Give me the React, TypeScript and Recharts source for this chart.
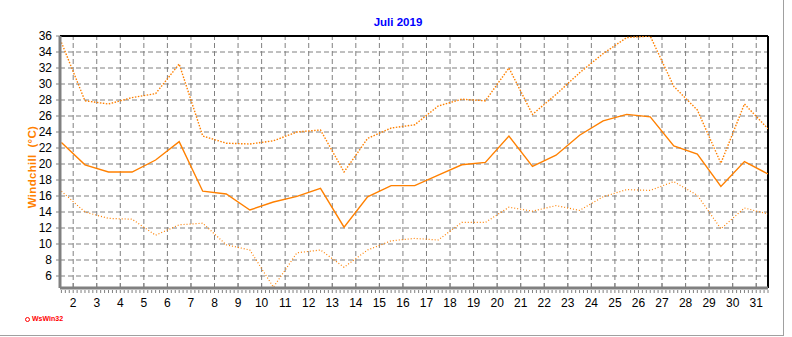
import React from 'react';
import { LineChart, Line, XAxis, YAxis, CartesianGrid, ReferenceLine, Label } from 'recharts';

const title = 'Juli 2019';
const yAxisTitle = 'Windchill  (°C)';
const logoText = 'WsWin32';

const days = [1.5, 2.5, 3.5, 4.5, 5.5, 6.5, 7.5, 8.5, 9.5, 10.5, 11.5, 12.5, 13.5, 14.5, 15.5, 16.5, 17.5, 18.5, 19.5, 20.5, 21.5, 22.5, 23.5, 24.5, 25.5, 26.5, 27.5, 28.5, 29.5, 30.5, 31.5];
const maxWindchill = [35.2, 27.9, 27.5, 28.3, 28.8, 32.5, 23.5, 22.6, 22.5, 22.9, 24.0, 24.25, 19.0, 23.2, 24.5, 24.9, 27.25, 28.1, 27.9, 32.0, 26.2, 28.7, 31.4, 33.8, 35.8, 36.0, 29.7, 26.75, 20.1, 27.5, 24.4];
const meanWindchill = [22.7, 19.9, 19.0, 19.0, 20.5, 22.8, 16.6, 16.25, 14.25, 15.25, 15.95, 16.95, 12.1, 15.9, 17.3, 17.3, 18.6, 19.9, 20.2, 23.5, 19.7, 21.1, 23.6, 25.4, 26.2, 25.9, 22.25, 21.25, 17.2, 20.3, 18.75];
const minWindchill = [16.6, 14.0, 13.2, 13.1, 11.1, 12.4, 12.6, 9.9, 9.25, 4.6, 8.9, 9.25, 7.1, 9.25, 10.4, 10.7, 10.5, 12.7, 12.7, 14.6, 14.1, 14.8, 14.2, 15.9, 16.8, 16.7, 17.8, 16.1, 11.9, 14.5, 13.75];

const xTickLabels = [2, 3, 4, 5, 6, 7, 8, 9, 10, 11, 12, 13, 14, 15, 16, 17, 18, 19, 20, 21, 22, 23, 24, 25, 26, 27, 28, 29, 30, 31];
const yTickLabels = [6, 8, 10, 12, 14, 16, 18, 20, 22, 24, 26, 28, 30, 32, 34, 36];

const X_MIN = 1.44;
const X_MAX = 31.5;
const Y_MIN = 4.5;
const Y_MAX = 36;
const MINOR_PER_DAY = 6;

const data = days.map((d, i) => ({
  day: d,
  max: maxWindchill[i],
  mean: meanWindchill[i],
  min: minWindchill[i],
}));

// minor tick positions along the time axis (every 4 hours)
const minorTicks: number[] = [];
for (let k = Math.ceil(X_MIN * MINOR_PER_DAY); k <= Math.floor(X_MAX * MINOR_PER_DAY); k++) {
  minorTicks.push(k / MINOR_PER_DAY);
}
const allXTicks = Array.from(new Set([...minorTicks, ...xTickLabels])).sort((a, b) => a - b);

const FONT = '"Liberation Sans", Arial, sans-serif';
const GRID_DASH = '5 3';

const XTick = (props: any) => {
  const { x, y, payload } = props;
  const v = payload.value;
  const isMajor = Math.abs(v - Math.round(v)) < 1e-6 && xTickLabels.includes(Math.round(v));
  if (!isMajor) {
    return <line x1={x} x2={x} y1={y + 2} y2={y + 5} stroke="#808080" strokeWidth={1} />;
  }
  return (
    <g>
      <line x1={x} x2={x} y1={y - 5} y2={y - 1} stroke="#808080" strokeWidth={1} />
      <line x1={x} x2={x} y1={y + 2} y2={y + 5} stroke="#808080" strokeWidth={1} />
      <text x={x} y={y + 19} textAnchor="middle" fontSize={12} fontFamily={FONT} fill="#000">
        {Math.round(v)}
      </text>
    </g>
  );
};

const YTitle = (props: any) => {
  const vb = props.viewBox || { x: 0, y: 36, width: 60, height: 252 };
  const cx = vb.x + 32;
  const cy = vb.y + vb.height / 2 + 5;
  return (
    <text
      x={cx}
      y={cy}
      transform={`rotate(-90 ${cx} ${cy})`}
      textAnchor="middle"
      dominantBaseline="central"
      fontSize={11.5}
      fontWeight="bold"
      fontFamily={FONT}
      fill="#FF8000"
      letterSpacing={0.3}
      style={{ whiteSpace: 'pre' }}
      xmlSpace="preserve"
    >
      {yAxisTitle}
    </text>
  );
};

export default function App() {
  return (
    <div style={{ position: 'absolute', left: 0, top: 0, width: 792, height: 337, background: '#fff' }}>
      <div
        style={{
          position: 'absolute',
          left: 0,
          top: 0,
          width: 784,
          height: 336,
          borderRight: '1px solid #a0a0a0',
          borderBottom: '1px solid #a0a0a0',
          boxSizing: 'border-box',
        }}
      />
      <div
        style={{
          position: 'absolute',
          left: 0,
          top: 15,
          width: 796,
          textAlign: 'center',
          fontFamily: FONT,
          fontWeight: 'bold',
          fontSize: 11.5,
          color: '#0000FF',
          lineHeight: '14px',
        }}
      >
        {title}
      </div>
      <div
        style={{
          position: 'absolute',
          left: 25,
          top: 315,
          fontFamily: FONT,
          fontWeight: 'bold',
          fontSize: 7,
          color: '#FF0000',
          lineHeight: '8px',
          display: 'flex',
          alignItems: 'center',
        }}
      >
        <span
          style={{
            display: 'inline-block',
            width: 3,
            height: 3,
            border: '1px solid #FF0000',
            borderRadius: '50%',
            marginRight: 2,
          }}
        />
        {logoText}
      </div>
      <div style={{ position: 'absolute', left: 0, top: 0 }}>
        <LineChart width={792} height={337} data={data} margin={{ top: 36, right: 24, bottom: 0, left: 0 }}>
          <CartesianGrid stroke="#808080" strokeDasharray={GRID_DASH} vertical={false} horizontal />
          {xTickLabels.map((d) => (
            <ReferenceLine key={`g${d}`} x={d} stroke="#808080" strokeDasharray={GRID_DASH} strokeWidth={1} />
          ))}
          <XAxis
            type="number"
            dataKey="day"
            domain={[X_MIN, X_MAX]}
            ticks={allXTicks}
            interval={0}
            allowDataOverflow
            height={49}
            tickSize={0}
            tickMargin={0}
            tickLine={false}
            tick={<XTick />}
            axisLine={{ stroke: '#808080', strokeWidth: 3 }}
          />
          <YAxis
            type="number"
            domain={[Y_MIN, Y_MAX]}
            ticks={yTickLabels}
            interval={0}
            allowDataOverflow
            width={60}
            tickSize={4}
            tickMargin={4}
            tickLine={{ stroke: '#808080' }}
            axisLine={{ stroke: '#808080', strokeWidth: 3 }}
            tick={{ fontSize: 12, fontFamily: FONT, fill: '#000' }}
          >
            <Label content={<YTitle />} />
          </YAxis>
          <ReferenceLine y={Y_MAX} stroke="#000" strokeWidth={2} />
          <ReferenceLine x={X_MAX} stroke="#000" strokeWidth={2} />
          <Line
            type="linear"
            dataKey="min"
            stroke="#FF8000"
            strokeWidth={1.2}
            strokeDasharray="1 2"
            dot={false}
            isAnimationActive={false}
          />
          <Line
            type="linear"
            dataKey="max"
            stroke="#FF8000"
            strokeWidth={1.4}
            strokeDasharray="1.5 1.5"
            dot={false}
            isAnimationActive={false}
          />
          <Line
            type="linear"
            dataKey="mean"
            stroke="#FF8000"
            strokeWidth={1.4}
            dot={false}
            isAnimationActive={false}
          />
        </LineChart>
      </div>
    </div>
  );
}
